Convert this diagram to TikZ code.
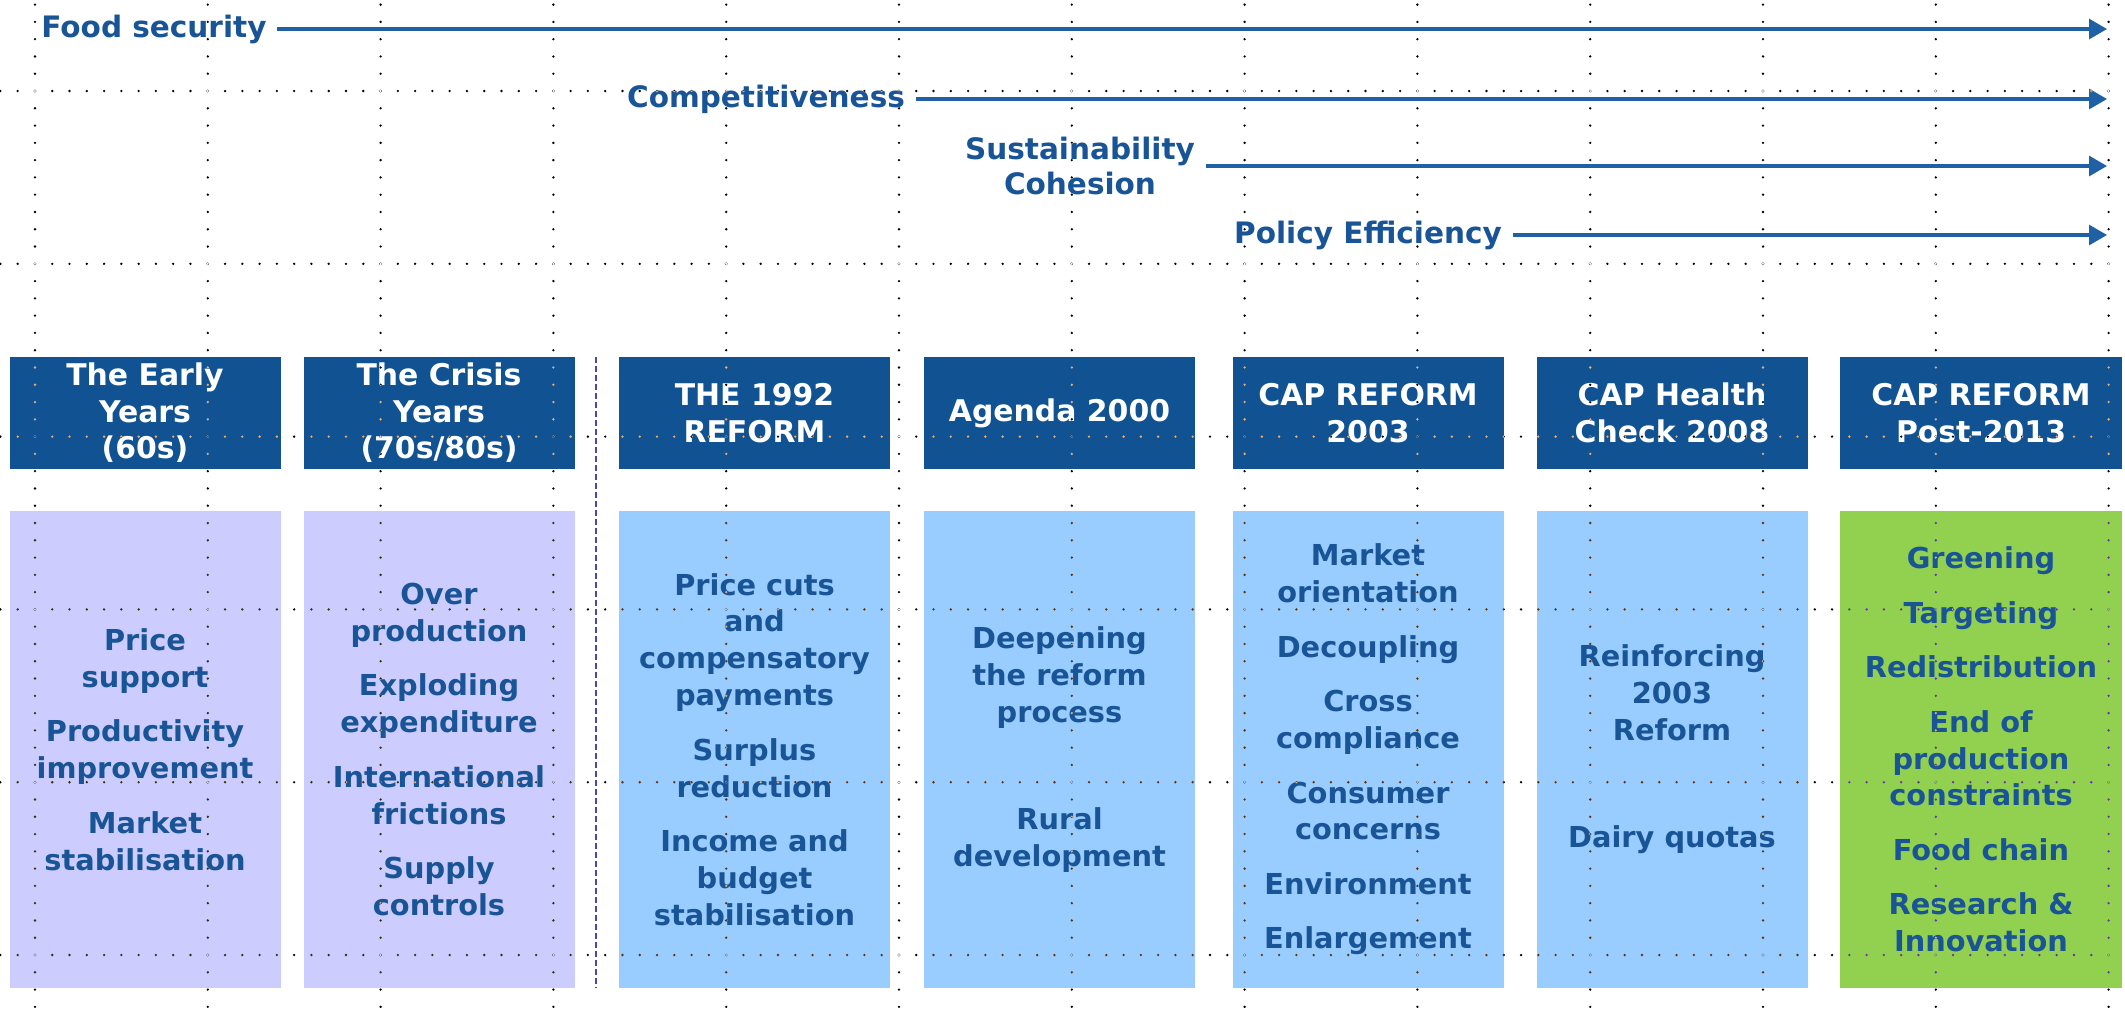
\documentclass[tikz,border=0pt]{standalone}
\usepackage{fontspec}
\setmainfont{DejaVu Sans}
\usetikzlibrary{arrows.meta}

\definecolor{capnavy}{RGB}{17,82,146}
\definecolor{captext}{RGB}{24,84,150}
\definecolor{caparrow}{RGB}{32,96,164}
\definecolor{capearly}{RGB}{204,204,255}
\definecolor{capreform}{RGB}{153,204,255}
\definecolor{capgreen}{RGB}{146,208,80}
\definecolor{capsep}{RGB}{72,72,168}

\newcommand{\headfont}{\fontsize{8.5pt}{10.4pt}\selectfont\bfseries}
\newcommand{\itemfont}{\fontsize{8.2pt}{10.5pt}\selectfont\bfseries}
\newcommand{\trendfont}{\fontsize{8.4pt}{10pt}\selectfont\bfseries}

\tikzset{
  headbox/.style={fill=capnavy, text=white, font=\headfont, align=center,
    inner sep=0pt, minimum width=27.1mm, minimum height=11.15mm},
  itembox/.style={text=captext, font=\itemfont, align=center,
    inner sep=0pt, minimum width=27.1mm, minimum height=47.7mm},
  trendlabel/.style={text=captext, font=\trendfont, align=center, inner sep=1mm},
  trend/.style={draw=caparrow, line width=0.32mm, -{Triangle[length=1.8mm, width=2mm]}},
  separator/.style={draw=capsep, line width=0.25mm, dash pattern=on 0.6mm off 0.3mm},
  griddots/.style={white, line width=0.26mm, line cap=round, dash pattern=on 0pt off 1.728mm},
}

\begin{document}
\begin{tikzpicture}[x=0.1mm, y=-0.1mm]
  \useasboundingbox (0,0) rectangle (2125,1008);
  \fill[white] (0,0) rectangle (2125,1008);

  % objectives
  \node[trendlabel] (food) at (154,29) {Food security};
  \node[trendlabel] (compet) at (766,99) {Competitiveness};
  \node[trendlabel] (sustain) at (1080,166) {Sustainability\\Cohesion};
  \node[trendlabel] (effic) at (1368,235) {Policy Efficiency};
  \coordinate (foodend) at (2107,29);
  \coordinate (competend) at (2107,99);
  \coordinate (sustainend) at (2107,166);
  \coordinate (efficend) at (2107,235);
  \draw[trend] (food.east) -- (foodend);
  \draw[trend] (compet.east) -- (competend);
  \draw[trend] (sustain.east) -- (sustainend);
  \draw[trend] (effic.east) -- (efficend);

  % periods
  \node[headbox] (h1) at (145,413) {The Early\\Years\\(60s)};
  \node[headbox] (h2) at (439,413) {The Crisis\\Years\\(70s/80s)};
  \node[headbox] (h3) at (754.5,413) {THE 1992\\REFORM};
  \node[headbox] (h4) at (1059.5,413) {Agenda 2000};
  \node[headbox] (h5) at (1368,413) {CAP REFORM\\2003};
  \node[headbox] (h6) at (1672,413) {CAP Health\\Check 2008};
  \node[headbox, minimum width=28.2mm] (h7) at (1981,413) {CAP REFORM\\Post-2013};

  % contents
  \node[itembox, fill=capearly] (c1) at (145,749.5)
    {Price\\support\\[5pt]Productivity\\improvement\\[5pt]Market\\stabilisation};
  \node[itembox, fill=capearly] (c2) at (439,749.5)
    {Over\\production\\[5pt]Exploding\\expenditure\\[5pt]International\\frictions\\[5pt]Supply\\controls};
  \node[itembox, fill=capreform] (c3) at (754.5,749.5)
    {Price cuts\\and\\compensatory\\payments\\[5pt]Surplus\\reduction\\[5pt]Income and\\budget\\stabilisation};
  \node[itembox, fill=capreform] (c4) at (1059.5,749.5)
    {Deepening\\the reform\\process\\[20pt]Rural\\development};
  \node[itembox, fill=capreform] (c5) at (1368,749.5)
    {Market\\orientation\\[5pt]Decoupling\\[5pt]Cross\\compliance\\[5pt]Consumer\\concerns\\[5pt]Environment\\[5pt]Enlargement};
  \node[itembox, fill=capreform] (c6) at (1672,749.5)
    {Reinforcing\\2003\\Reform\\[20pt]Dairy quotas};
  \node[itembox, fill=capgreen, minimum width=28.2mm] (c7) at (1981,749.5)
    {Greening\\[5pt]Targeting\\[5pt]Redistribution\\[5pt]End of\\production\\constraints\\[5pt]Food chain\\[5pt]Research \&\\Innovation};

  % before / after 1992
  \coordinate (septop) at (596,357);
  \coordinate (sepbot) at (596,988);
  \draw[separator] (septop) -- (sepbot);

  % slide grid
  \begin{scope}[blend mode=difference]
    \foreach \gx in {0,...,12}
      \draw[griddots] (35+172.8*\gx,4.6) -- (35+172.8*\gx,1008);
    \foreach \gy in {0,...,5}
      \draw[griddots] (0.4,91+172.8*\gy) -- (2125,91+172.8*\gy);
  \end{scope}
\end{tikzpicture}
\end{document}
